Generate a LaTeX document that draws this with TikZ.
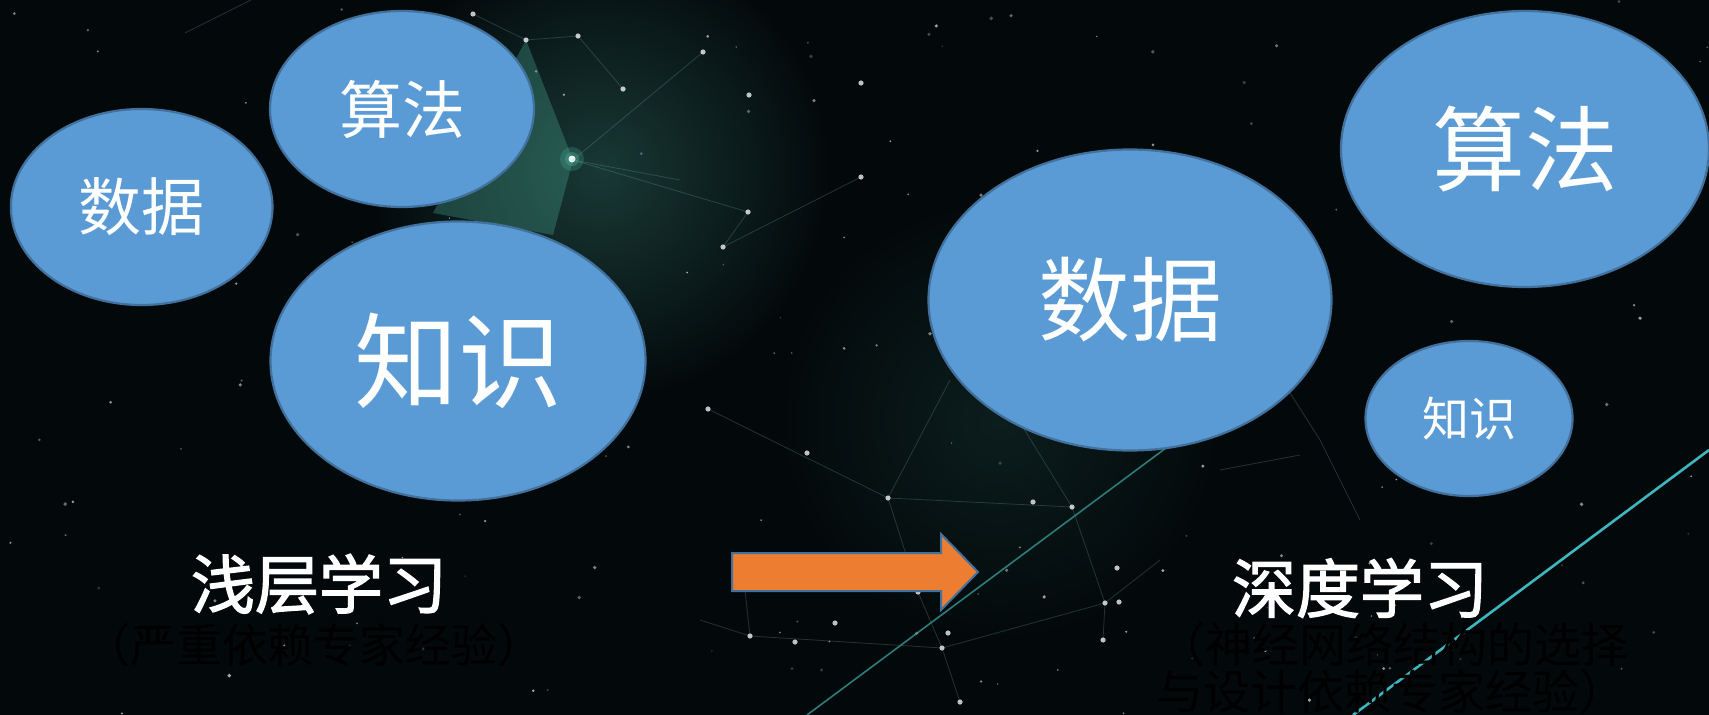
\documentclass[tikz,border=0pt]{standalone}
\usepackage{fontspec}
\setmainfont{Noto Sans CJK SC}
\newfontfamily\cjkb[FakeBold=2]{Noto Sans CJK SC}
\usetikzlibrary{shapes.geometric}
\definecolor{bg}{HTML}{03090B}
\definecolor{bubfill}{HTML}{5B9BD5}
\definecolor{bubline}{HTML}{41719C}
\definecolor{arrfill}{HTML}{ED7D31}
\definecolor{glow}{HTML}{4FB3A0}
\definecolor{brightline}{HTML}{3EB6BE}
\definecolor{dimline}{HTML}{2C7C7C}
\newcommand{\fsz}[1]{\fontsize{#1}{#1}\selectfont}
\tikzset{
  bub/.style={ellipse, draw=bubline, line width=2.2pt, fill=bubfill, text=white, inner sep=0pt},
  titletext/.style={text=white, inner sep=0pt},
  subtext/.style={text=black, inner sep=0pt},
  netline/.style={draw=glow!70!white, opacity=0.22, line width=0.8pt},
  star/.style={fill=white, opacity=0.75}
}
\begin{document}
\begin{tikzpicture}[x=1pt,y=-1pt]
\useasboundingbox (0,0) rectangle (1709,715);
% background
\fill[bg] (0,0) rectangle (1709,715);
\shade[inner color=glow!28!bg, outer color=bg] (600,170) circle[radius=230];
\shade[inner color=glow!12!bg, outer color=bg] (1000,420) circle[radius=220];
% teal cone near top
\fill[glow, opacity=0.3] (526,40) -- (573,160) -- (553,235) -- (433,213) -- cycle;
\fill[glow, opacity=0.25] (572,159) circle[radius=12];
\fill[glow, opacity=0.35] (572,159) circle[radius=7];
\fill[white, opacity=0.9] (572,159) circle[radius=3.5];
% faint network lines
\draw[netline] (185,33) -- (251,0);
\draw[netline] (526,40) -- (473,14);
\draw[netline] (526,40) -- (578,36) -- (623,89);
\draw[netline] (573,160) -- (703,52);
\draw[netline] (573,160) -- (748,212) -- (723,247);
\draw[netline] (573,160) -- (680,180);
\draw[netline] (723,247) -- (861,177);
\draw[netline] (708,409) -- (888,498) -- (1072,507);
\draw[netline] (888,498) -- (918,592);
\draw[netline] (888,498) -- (950,380);
\draw[netline] (700,620) -- (750,636) -- (942,648) -- (1105,603);
\draw[netline] (750,636) -- (745,590);
\draw[netline] (1105,603) -- (1072,507) -- (1000,390);
\draw[netline] (1103,640) -- (1105,603) -- (1160,560);
\draw[netline] (918,592) -- (942,648);
\draw[netline] (942,648) -- (960,702);
\draw[netline] (1250,330) -- (1320,440) -- (1360,520);
\draw[netline] (1220,470) -- (1300,455);
% dim and bright diagonal lines
\draw[draw=dimline, line width=1.6pt] (807,715) -- (1170,445);
\draw[draw=brightline, line width=2.6pt] (1353,715) -- (1709,450);
% random faint stars
\pgfmathsetseed{17}
\foreach \i in {1,...,190}{
  \pgfmathsetmacro\sx{rnd*1709}
  \pgfmathsetmacro\sy{rnd*715}
  \pgfmathsetmacro\sr{0.7+rnd*1.3}
  \pgfmathsetmacro\so{0.15+rnd*0.5}
  \fill[white, opacity=\so] (\sx,\sy) circle[radius=\sr];
}
% brighter stars
\foreach \p in {(708,409),(888,498),(1072,507),(1105,603),(1103,640),(750,636),(942,648),(918,592),(807,453),(1033,502),(1117,568),(1119,602),(795,642),(948,633),(835,623),(960,702),(526,40),(749,95),(723,247),(703,52),(748,212),(623,89),(578,36),(473,14),(861,83),(861,177)}{
  \fill[star] \p circle[radius=2.6];
}
% left bubbles
\node[bub, minimum width=261.6pt, minimum height=196pt, font=\fsz{63}] (ld) at (141.7,207) {数据};
\node[bub, minimum width=264pt, minimum height=196pt, font=\fsz{63}] (la) at (402,109) {算法};
\node[bub, minimum width=375pt, minimum height=279pt, font=\fsz{104}] (lk) at (458,361) {知识};
% right bubbles
\node[bub, minimum width=403pt, minimum height=301pt, font=\fsz{92}] (rd) at (1130,300) {数据};
\node[bub, minimum width=368pt, minimum height=276pt, font=\fsz{93}] (ra) at (1525,149) {算法};
\node[bub, minimum width=207pt, minimum height=155pt, font=\fsz{47}] (rk) at (1469,418.5) {知识};
% titles
\node[titletext, font=\cjkb\fsz{64}] (t1) at (319,584) {浅层学习};
\node[subtext, font=\fsz{46}] (s1) at (314,645) {（严重依赖专家经验）};
\node[titletext, font=\cjkb\fsz{64}] (t2) at (1360,588) {深度学习};
\node[subtext, font=\fsz{47}, anchor=west] (s2a) at (1158,645) {（神经网络结构的选择};
\node[subtext, font=\fsz{47}, anchor=west] (s2b) at (1156,692) {与设计依赖专家经验）};
% arrow
\draw[fill=arrfill, draw=bubline, line width=2pt, line join=miter]
  (732,553) -- (941,553) -- (941,534) -- (978,572) -- (941,610) -- (941,591) -- (732,591) -- cycle;
\end{tikzpicture}
\end{document}
